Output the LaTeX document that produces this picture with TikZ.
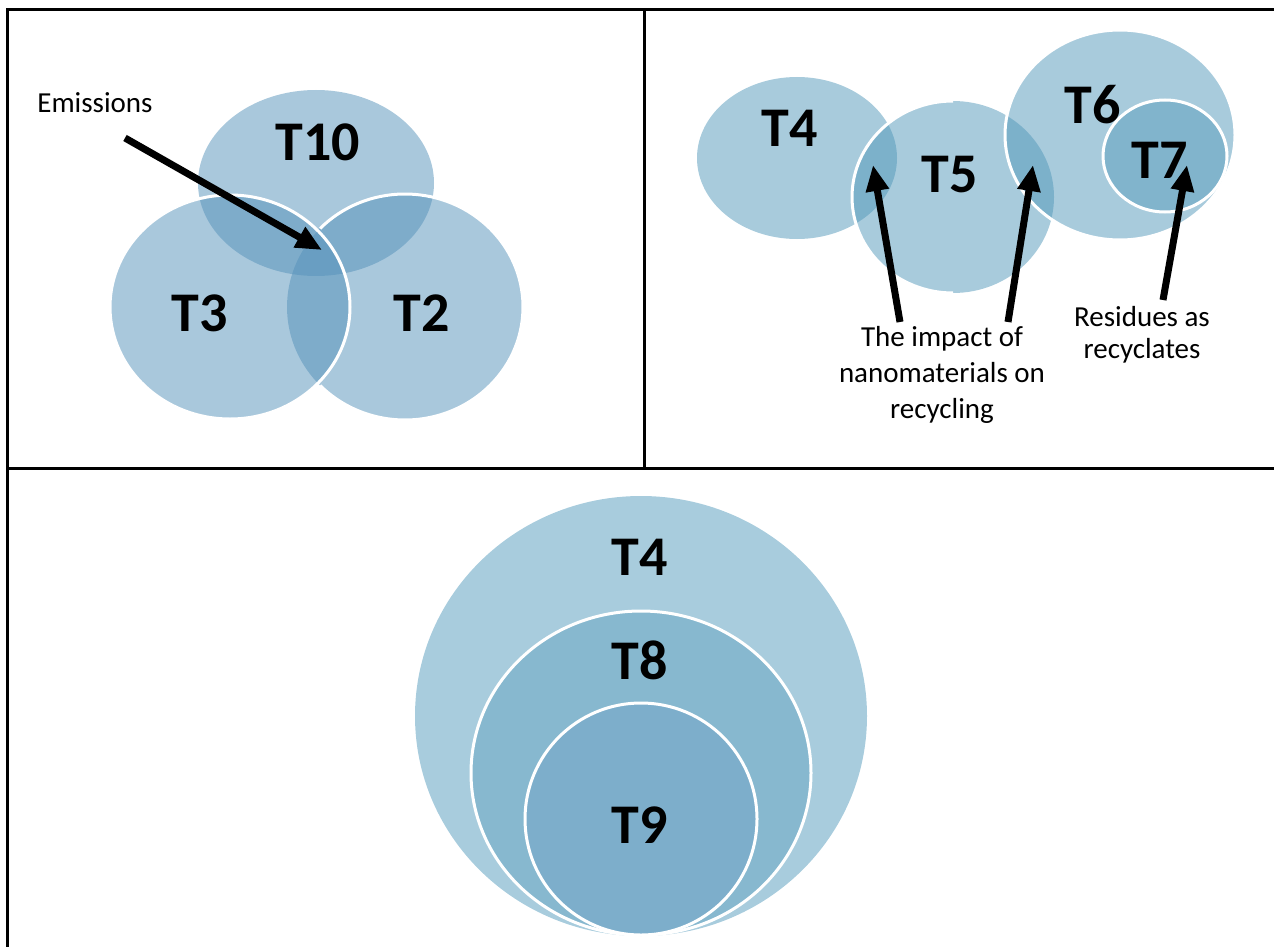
\documentclass[tikz,border=0pt]{standalone}
\usepackage{fontspec}
\setmainfont{Carlito}
\usepackage{tikz}
\usetikzlibrary{arrows.meta}

\definecolor{setblue}{RGB}{84,145,185}
\definecolor{ringblue}{RGB}{81,151,185}
\definecolor{outerblue}{RGB}{168,204,221}
\definecolor{midblue}{RGB}{135,184,207}
\definecolor{innerblue}{RGB}{125,174,203}

\tikzset{
  frame/.style={line width=3pt, black},
  tlabel/.style={font=\fontsize{56}{60}\selectfont\bfseries, inner sep=0pt},
  note/.style={font=\fontsize{29}{36}\selectfont, align=center, inner sep=0pt},
  fatarrow/.style={line width=7pt, -{Triangle[length=26pt,width=22pt]}},
  rim/.style={white, line width=3pt}
}

\begin{document}
\begin{tikzpicture}[x=1pt,y=-1pt]
\useasboundingbox (0,0) rectangle (1274,947);
\clip (0,0) rectangle (1274,947);

% top left
\fill[setblue, fill opacity=0.5] (316,183) ellipse [x radius=118, y radius=93];
\fill[setblue, fill opacity=0.5] (230,307) ellipse [x radius=120, y radius=112];
\fill[setblue, fill opacity=0.5] (405,307) ellipse [x radius=118, y radius=113];
\draw[rim] (405,307) ++(-136:118 and 113) arc [start angle=-136, end angle=136, x radius=118, y radius=113];
\draw[rim] (230,307) ellipse [x radius=120, y radius=112];

\node[tlabel] (t10) at (318,142) {T10};
\node[tlabel] (t3) at (200,313) {T3};
\node[tlabel] (t2) at (422,313) {T2};

\node[note] (emis) at (95,103) {Emissions};
\coordinate (emis-from) at (125,138);
\coordinate (emis-to) at (322,250);
\draw[fatarrow] (emis-from) -- (emis-to);

% top right
\fill[ringblue, fill opacity=0.5] (797,158) ellipse [x radius=100, y radius=81];
\fill[ringblue, fill opacity=0.5] (953,197) ellipse [x radius=101, y radius=96];
\draw[rim] (953,197) ++(90:101 and 96) arc [start angle=90, end angle=270, x radius=101, y radius=96];
\fill[ringblue, fill opacity=0.5] (1120,135) ellipse [x radius=115, y radius=105];
\draw[rim] (1120,135) ellipse [x radius=115, y radius=105];
\fill[ringblue, fill opacity=0.45] (1165,156) ellipse [x radius=62, y radius=56];
\draw[rim] (1165,156) ellipse [x radius=62, y radius=56];

\node[tlabel] (t4a) at (790,128) {T4};
\node[tlabel] (t5) at (950,175) {T5};
\node[tlabel] (t6) at (1093,105) {T6};
\node[tlabel] (t7) at (1160,160) {T7};

\node[note] (impact) at (942,375) {The impact of\\nanomaterials on\\recycling};
\node[note, font=\fontsize{29}{32}\selectfont] (resid) at (1142,335) {Residues as\\recyclates};
\coordinate (imp-left) at (900,322);
\coordinate (imp-right) at (1008,322);
\coordinate (res-from) at (1163,300);
\coordinate (lens-left) at (873,165);
\coordinate (lens-right) at (1033,165);
\coordinate (in-t7) at (1187,165);
\draw[fatarrow] (imp-left) -- (lens-left);
\draw[fatarrow] (imp-right) -- (lens-right);
\draw[fatarrow] (res-from) -- (in-t7);

% bottom
\fill[outerblue] (641,716) ellipse [x radius=226, y radius=220];
\fill[midblue] (641,773) ellipse [x radius=170, y radius=162];
\draw[rim] (641,773) ellipse [x radius=170, y radius=162];
\fill[innerblue] (641,819) ellipse [x radius=116, y radius=116];
\draw[rim] (641,819) ellipse [x radius=116, y radius=116];

\node[tlabel] (t4b) at (640,557) {T4};
\node[tlabel] (t8) at (640,660) {T8};
\node[tlabel] (t9) at (640,825) {T9};

% frame
\draw[frame] (7,10) rectangle (1290,980);
\draw[frame] (644,10) -- (644,468);
\draw[frame] (7,468) -- (1290,468);
\end{tikzpicture}
\end{document}
